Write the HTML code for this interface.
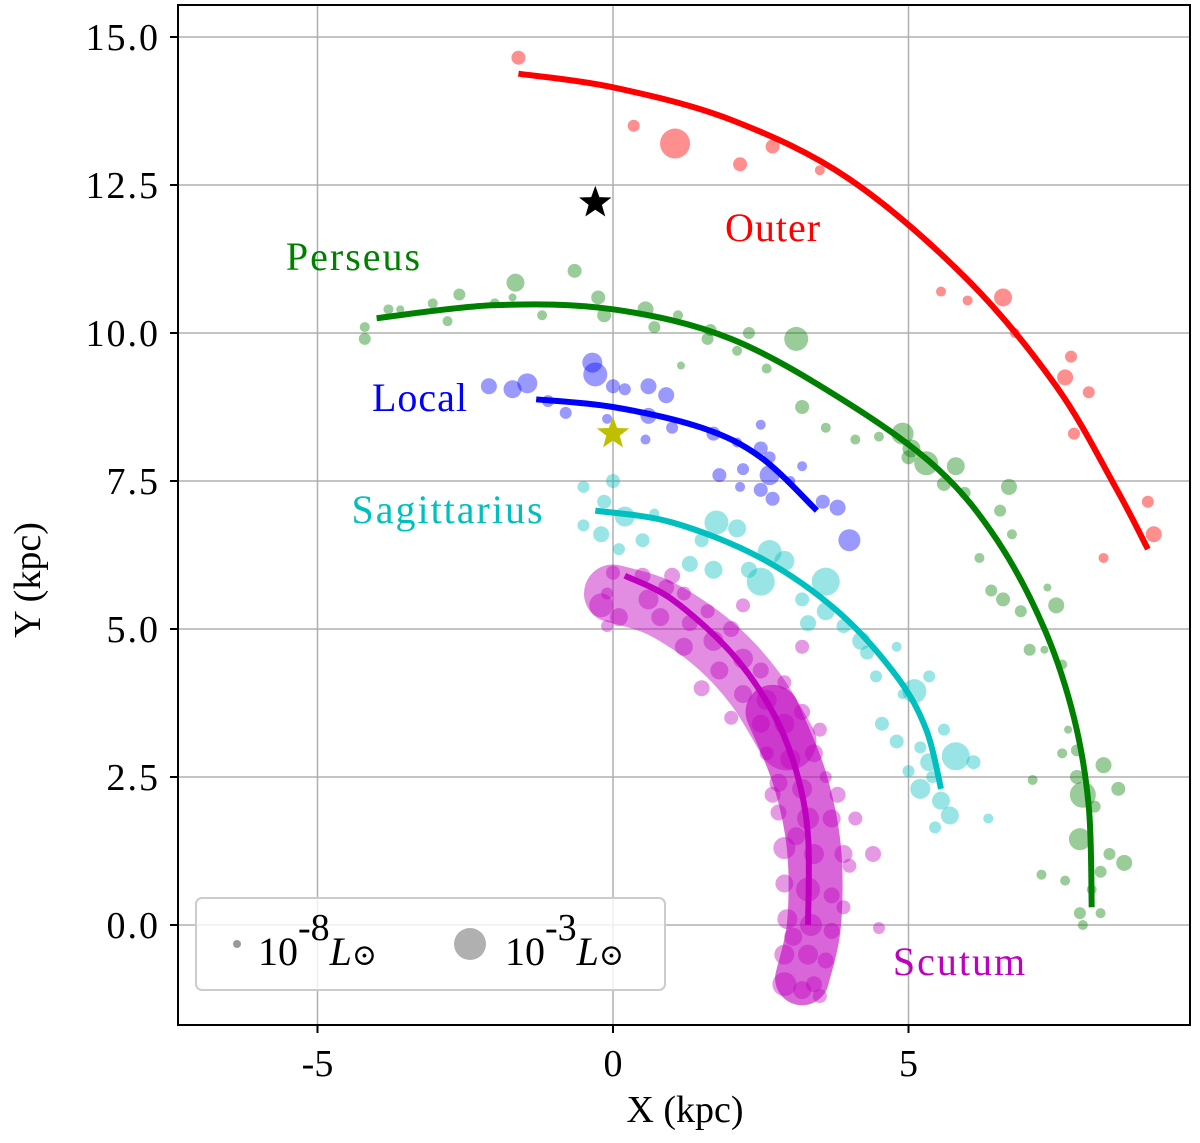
<!DOCTYPE html>
<html><head><meta charset="utf-8"><style>
body{margin:0;background:#fff}
svg text{font-family:"Liberation Serif","DejaVu Serif",serif}
</style></head><body>
<svg id="chart" width="1200" height="1138" xmlns="http://www.w3.org/2000/svg">
<g id="grid"></g>
<g id="band"></g>
<g id="pts"></g>
<g id="arms"></g>
<g id="ticks"></g>
<rect x="178" y="5" width="1012" height="1020" fill="none" stroke="#000" stroke-width="2"/>
<text x="773" y="241" fill="#f00" font-size="40" text-anchor="middle" letter-spacing="1">Outer</text>
<text x="354" y="270" fill="#008000" font-size="40" text-anchor="middle" letter-spacing="2">Perseus</text>
<text x="420" y="411" fill="#00f" font-size="40" text-anchor="middle" letter-spacing="1">Local</text>
<text x="448" y="523" fill="#00bfbf" font-size="40" text-anchor="middle" letter-spacing="2">Sagittarius</text>
<text x="960" y="975" fill="#bf00bf" font-size="40" text-anchor="middle" letter-spacing="2">Scutum</text>
<g>
<rect x="196" y="898" width="469" height="92" rx="6" fill="#fff" fill-opacity="0.8" stroke="#ccc" stroke-width="2"/>
<circle cx="237" cy="944" r="4" fill="#999"/>
<text x="258" y="965" font-size="40">10<tspan dy="-25" font-size="38">-8</tspan><tspan dy="25" font-style="italic">L</tspan><tspan font-size="30">⊙</tspan></text>
<circle cx="470" cy="944" r="16" fill="#b0b0b0"/>
<text x="505" y="965" font-size="40">10<tspan dy="-25" font-size="38">-3</tspan><tspan dy="25" font-style="italic">L</tspan><tspan font-size="30">⊙</tspan></text>
</g>
<text x="685" y="1122" font-size="38" text-anchor="middle">X (kpc)</text>
<text transform="translate(40,580) rotate(-90)" font-size="38" text-anchor="middle">Y (kpc)</text>
</svg>
<script>
const xTicks=[-5,0,5];
const yTicks=[0,2.5,5,7.5,10,12.5,15];
const outerCurve=[[-1.6,14.38],[0,14.15],[2,13.6],[4,12.6],[6,10.9],[7.5,9.1],[8.5,7.4],[9.05,6.35]];
const perseusCurve=[[-4,10.25],[-2,10.47],[0,10.4],[2,9.9],[4,8.8],[5.5,7.7],[6.5,6.5],[7.3,5.0],[7.8,3.5],[8.05,2.0],[8.1,0.3]];
const localCurve=[[-1.3,8.88],[0,8.75],[1.5,8.4],[2.5,7.9],[3.45,7.0]];
const sagCurve=[[-0.3,7.0],[1,6.8],[2.5,6.2],[3.8,5.3],[4.8,4.2],[5.3,3.3],[5.55,2.3]];
const scutumCurve=[[0.2,5.9],[1,5.5],[2,4.6],[2.7,3.6],[3.1,2.6],[3.3,1.5],[3.3,0.0]];
const scutumBandUpper=[[0.0,5.6],[0.8,5.35],[1.7,4.75],[2.4,4.0],[2.95,3.1]];
const scutumBandLower=[[2.7,3.6],[3.15,2.5],[3.4,1.3],[3.4,0.0],[3.2,-0.9]];
const outerPts=[[-1.6,14.65,7],[0.35,13.5,6],[1.05,13.2,15],[2.15,12.85,7],[2.7,13.15,7],[3.5,12.75,5],[5.55,10.7,5],[6,10.55,5],[6.6,10.6,9],[6.8,10.0,5],[7.75,9.6,6],[7.65,9.25,8],[8.05,9.0,6],[7.8,8.3,6],[9.05,7.15,6],[9.15,6.6,8],[8.3,6.2,5]];
const perseusPts=[[-4.2,9.9,6],[-4.2,10.1,5],[-3.8,10.4,5],[-3.6,10.4,4],[-3.05,10.5,5],[-2.6,10.65,6],[-2,10.5,5],[-1.7,10.6,4],[-1.65,10.85,9],[-0.65,11.05,7],[-0.25,10.6,7],[-0.15,10.3,7],[-2.8,10.2,5],[-1.2,10.3,5],[0.55,10.4,8],[0.7,10.1,6],[1.1,10.3,5],[1.6,9.9,6],[1.65,10.05,6],[2.3,10.0,6],[3.1,9.9,12],[2.1,9.7,5],[2.6,9.4,5],[1.15,9.45,4],[3.2,8.75,7],[3.6,8.4,5],[4.1,8.2,5],[4.5,8.25,5],[4.9,8.3,11],[5.05,8.05,9],[5.3,7.8,12],[5.0,7.9,7],[5.8,7.75,9],[5.6,7.45,7],[5.95,7.3,6],[6.7,7.4,8],[6.55,7.0,6],[6.75,6.6,5],[6.2,6.2,5],[6.4,5.65,6],[6.6,5.5,7],[6.9,5.3,6],[7.35,5.7,4],[7.5,5.4,8],[7.05,4.65,6],[7.3,4.65,4],[7.6,4.4,5],[7.85,2.95,6],[7.6,2.9,5],[7.85,2.5,7],[8.3,2.7,8],[8.15,2.0,6],[8.55,2.3,7],[7.95,2.2,13],[7.9,1.45,11],[8.4,1.2,6],[8.65,1.05,8],[8.25,0.9,6],[7.25,0.85,5],[7.65,0.75,5],[8.1,0.6,5],[7.9,0.2,6],[7.95,0.0,5],[8.25,0.2,5],[7.1,2.45,5],[7.7,3.3,4]];
const localPts=[[-2.1,9.1,8],[-1.7,9.05,9],[-1.45,9.15,10],[-1.1,8.85,6],[-0.35,9.5,10],[-0.3,9.3,12],[0.0,9.1,7],[0.2,9.05,6],[0.6,9.1,8],[0.9,8.95,8],[-0.8,8.65,6],[-0.1,8.55,5],[0.6,8.6,8],[1.0,8.4,6],[0.55,8.2,5],[1.7,8.3,7],[2.1,8.15,5],[2.5,8.05,7],[2.65,7.9,6],[2.65,7.6,10],[2.2,7.7,6],[1.8,7.6,7],[2.15,7.4,5],[2.5,7.35,7],[3.0,7.5,5],[3.2,7.75,5],[3.55,7.15,7],[3.8,7.05,8],[4.0,6.5,11],[2.7,7.2,7],[2.5,8.45,5]];
const sagPts=[[-0.5,7.4,6],[0.0,7.5,7],[-0.15,7.15,7],[-0.5,6.75,6],[-0.2,6.6,8],[0.2,6.9,10],[0.7,6.95,5],[0.5,6.5,7],[0.1,6.35,6],[1.5,6.5,7],[1.75,6.8,12],[2.1,6.7,9],[1.3,6.1,8],[1.7,6.0,9],[2.3,6.0,8],[2.65,6.3,12],[2.9,6.15,10],[2.5,5.8,14],[3.2,5.5,7],[3.6,5.8,14],[3.6,5.3,9],[3.9,5.05,7],[3.3,5.1,8],[4.2,4.8,9],[4.3,4.6,7],[4.8,4.7,5],[4.45,4.2,6],[4.9,3.9,5],[5.1,3.95,12],[5.35,4.2,6],[4.55,3.4,7],[4.8,3.1,7],[5.2,3.0,6],[5.6,3.3,6],[5.35,2.75,9],[5.8,2.85,14],[6.1,2.75,7],[5.0,2.6,6],[5.2,2.3,10],[5.55,2.1,9],[5.7,1.85,9],[5.45,1.65,6],[6.35,1.8,5],[5.4,2.5,6]];
const scutumPts=[[0.0,5.95,7],[-0.1,5.6,6],[-0.2,5.4,12],[0.1,5.2,9],[-0.1,5.05,6],[0.5,5.9,8],[0.6,5.5,10],[0.9,5.7,8],[1.2,5.6,7],[0.8,5.2,9],[1.3,5.1,8],[1.6,5.3,7],[1.2,4.7,9],[1.7,4.8,10],[2.0,5.0,8],[2.2,5.4,7],[1.8,4.3,9],[2.2,4.5,10],[2.5,4.3,8],[2.2,3.9,9],[2.6,3.8,10],[2.9,4.1,7],[2.5,3.4,9],[2.9,3.4,10],[3.2,3.6,8],[2.6,2.9,7],[3.0,2.8,10],[3.4,2.9,9],[2.8,2.4,9],[3.2,2.3,10],[3.6,2.5,6],[2.8,1.9,8],[3.3,1.8,11],[3.7,1.8,9],[2.9,1.3,11],[3.4,1.2,10],[3.9,1.2,9],[2.9,0.7,9],[3.3,0.6,12],[3.7,0.5,8],[2.95,0.1,10],[3.35,0.0,11],[3.7,-0.1,8],[2.9,-0.5,10],[3.3,-0.5,10],[3.6,-0.6,8],[2.9,-1.0,12],[3.2,-1.1,9],[3.5,-1.2,7],[4.4,1.2,8],[4.1,1.8,7],[4.5,-0.05,6],[3.5,3.3,7],[1.5,4.0,8],[2.0,3.5,7],[3.2,4.7,7],[1.0,5.9,8],[3.1,1.5,9],[3.05,-0.2,9],[3.4,-1.0,8],[3.8,2.2,8],[4.0,1.0,7],[2.7,2.2,8],[3.9,0.3,7]];
const stars=[[-0.3,12.2,'#000','black-star'],[0,8.3,'#bfbf00','sun-star']];

const NS='http://www.w3.org/2000/svg';
const X=v=>613+v*59.1, Y=v=>925-v*59.2;
function mk(tag,parent,attrs){const e=document.createElementNS(NS,tag);for(const k in attrs)e.setAttribute(k,attrs[k]);document.getElementById(parent).appendChild(e);return e;}
xTicks.forEach(t=>{
  const l=mk('line','grid',{x1:X(t),x2:X(t),y1:5,y2:1025,stroke:'#b0b0b0','stroke-width':1.5});
  
  
  const tk=mk('line','ticks',{x1:X(t),x2:X(t),y1:1025,y2:1033,stroke:'#000','stroke-width':2});
  
  
  const tx=mk('text','ticks',{x:X(t),y:1076,'font-size':38,'text-anchor':'middle'});
  tx.textContent=(t<0?'-':'')+Math.abs(t);
  
  
});
yTicks.forEach(t=>{
  const l=mk('line','grid',{x1:178,x2:1190,y1:Y(t),y2:Y(t),stroke:'#b0b0b0','stroke-width':1.5});
  
  
  const tk=mk('line','ticks',{x1:170,x2:178,y1:Y(t),y2:Y(t),stroke:'#000','stroke-width':2});
  
  
  const tx=mk('text','ticks',{x:160,y:Y(t)+13,'font-size':38,'text-anchor':'end','letter-spacing':2});
  tx.textContent=t.toFixed(1);
  
  
});
const smooth=pts=>{let d='M'+X(pts[0][0])+','+Y(pts[0][1]);for(let i=0;i<pts.length-1;i++){const p0=pts[Math.max(i-1,0)],p1=pts[i],p2=pts[i+1],p3=pts[Math.min(i+2,pts.length-1)];const c1=[X(p1[0])+(X(p2[0])-X(p0[0]))/6,Y(p1[1])+(Y(p2[1])-Y(p0[1]))/6],c2=[X(p2[0])-(X(p3[0])-X(p1[0]))/6,Y(p2[1])-(Y(p3[1])-Y(p1[1]))/6];d+=' C'+c1+' '+c2+' '+X(p2[0])+','+Y(p2[1]);}return d;};
const b1=mk('path','band',{d:smooth(scutumBandUpper),fill:'none',stroke:'#bf00bf','stroke-opacity':0.45,'stroke-width':58,'stroke-linecap':'round'});


const b2=mk('path','band',{d:smooth(scutumBandLower),fill:'none',stroke:'#bf00bf','stroke-opacity':0.6,'stroke-width':54,'stroke-linecap':'round'});


[[outerPts,'#ff6060','outer'],[perseusPts,'#008000','perseus'],[localPts,'#0000ff','local'],[sagPts,'#00bfbf','sagittarius'],[scutumPts,'#bf00bf','scutum']].forEach(([arr,c,n])=>{
  arr.forEach(p=>{
    const e=mk('circle','pts',{cx:X(p[0]),cy:Y(p[1]),r:p[2],fill:c,'fill-opacity':n==='outer'?0.7:0.4});
    
    
  });
});
[[outerCurve,'#ff0000','outer'],[perseusCurve,'#008000','perseus'],[localCurve,'#0000ff','local'],[sagCurve,'#00bfbf','sagittarius'],[scutumCurve,'#bf00bf','scutum']].forEach(([arr,c,n])=>{
  const e=mk('path','arms',{d:smooth(arr),fill:'none',stroke:c,'stroke-width':6});
  
  
});
stars.forEach(s=>{
  const cx=X(s[0]),cy=Y(s[1]),R=17,r=7;let pts=[];
  for(let i=0;i<10;i++){const a=-Math.PI/2+i*Math.PI/5,rr=i%2?r:R;pts.push((cx+rr*Math.cos(a)).toFixed(1)+','+(cy+rr*Math.sin(a)).toFixed(1));}
  const e=mk('polygon','arms',{points:pts.join(' '),fill:s[2]});
  
  
});
</script>
</body></html>
